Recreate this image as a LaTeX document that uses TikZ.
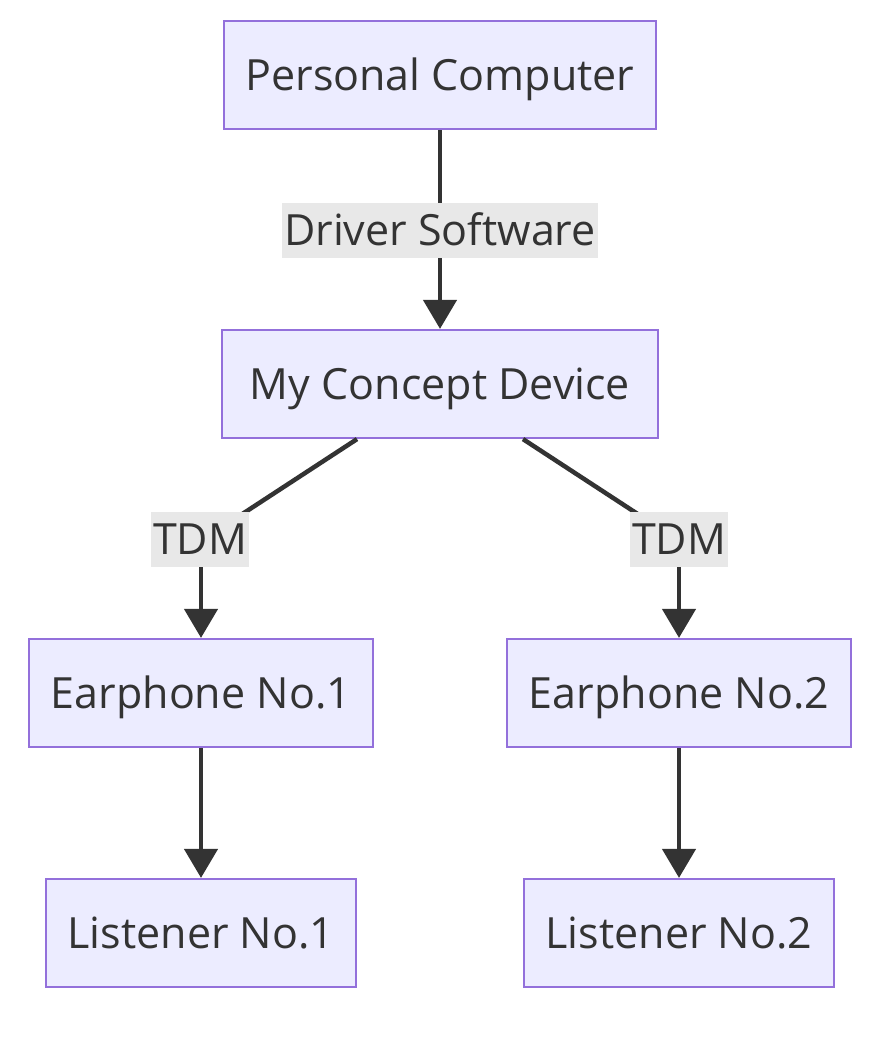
\documentclass[tikz,border=0pt]{standalone}
\usepackage{fontspec}
\setmainfont{Open Sans}
\usetikzlibrary{arrows.meta,calc}
\definecolor{boxfill}{HTML}{ECECFF}
\definecolor{boxline}{HTML}{9370DB}
\definecolor{edgecol}{HTML}{333333}
\definecolor{lblbg}{HTML}{E8E8E8}
\tikzset{
  box/.style={draw=boxline, fill=boxfill, line width=2.2pt, minimum height=108pt, inner sep=0pt, text=edgecol, font=\fontsize{43}{50}\selectfont, text height=30.7pt, text depth=0pt},
  lbl/.style={fill=lblbg, text=edgecol, inner xsep=2pt, inner ysep=0pt, minimum height=55pt, font=\fontsize{43}{50}\selectfont, text height=30.7pt, text depth=0pt},
  conn/.style={draw=edgecol, line width=4.5pt, -{Triangle[width=33pt,length=29pt]}},
  plain/.style={draw=edgecol, line width=4.5pt}
}
\begin{document}
\begin{tikzpicture}[x=1pt,y=-1pt]
\useasboundingbox (0,0) rectangle (877,1046);
\node[box, minimum width=432pt] (pc) at (440,75) {Personal Computer};
\node[box, minimum width=436pt] (mcd) at (440,384) {My Concept Device};
\node[box, minimum width=344pt] (ep1) at (201,693) {Earphone No.1};
\node[box, minimum width=344pt] (ep2) at (679,693) {Earphone No.2};
\node[box, minimum width=310pt] (l1) at (201,933) {Listener No.1};
\node[box, minimum width=310pt] (l2) at (679,933) {Listener No.2};
\coordinate (b1) at (201,541);
\coordinate (b2) at (679,541);
\coordinate (s1) at ($(mcd.south)+(-83,0)$);
\coordinate (s2) at ($(mcd.south)+(83,0)$);
\draw[conn] (pc.south) -- (mcd.north);
\draw[plain] (s1) -- (b1);
\draw[conn] (b1) -- (ep1.north);
\draw[plain] (s2) -- (b2);
\draw[conn] (b2) -- (ep2.north);
\draw[conn] (ep1.south) -- (l1.north);
\draw[conn] (ep2.south) -- (l2.north);
\node[lbl] (ds) at (440,230) {Driver Software};
\node[lbl] (t1) at (200,539) {TDM};
\node[lbl] (t2) at (679,539) {TDM};
\end{tikzpicture}
\end{document}
